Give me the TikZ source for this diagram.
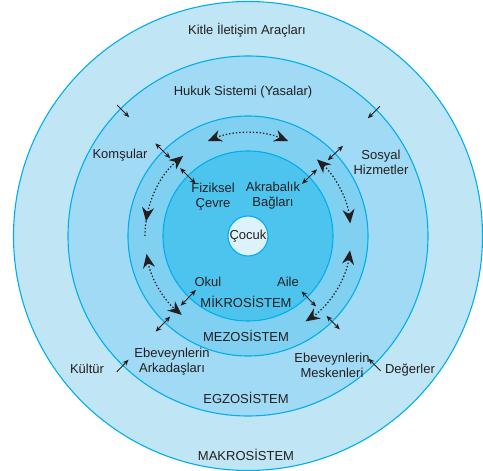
\documentclass[tikz,border=0pt]{standalone}
\usepackage{fontspec}
\setmainfont{Liberation Sans}
\usetikzlibrary{arrows.meta,decorations.markings}

\definecolor{makro}{HTML}{C0E6F5}
\definecolor{egzo}{HTML}{A0DAF5}
\definecolor{mezo}{HTML}{80D0F2}
\definecolor{mikro}{HTML}{4DC4EE}
\definecolor{cocuk}{HTML}{DEF2FB}
\definecolor{rim}{HTML}{00AEEF}
\definecolor{ink}{HTML}{231F20}

\begin{document}
\begin{tikzpicture}[x=1pt,y=1pt
		,every node/.append style={text=ink, align=center, font=\fontsize{13}{15}\selectfont}
		,ring/.style={draw=rim, line width=1.1pt}
		,small/.style={-{Stealth[length=6pt,width=5pt]}, draw=ink, line width=0.9pt}
		,twin/.style={{Stealth[length=6pt,width=5pt]}-{Stealth[length=6pt,width=5pt]}, draw=ink, line width=0.9pt}
		,dots/.style={draw=ink, line width=1.2pt, dash pattern=on 1.4pt off 2pt}
		,big/.style={{Stealth[length=14pt,width=12pt,inset=4.5pt]}-{Stealth[length=14pt,width=12pt,inset=4.5pt]}}
	]
	\useasboundingbox (0,0) rectangle (483,471);
	\coordinate (c) at (248,235);

	% rings
	\draw [ring, fill=makro] (c) circle [radius=234.5];
	\draw [ring, fill=egzo] (c) circle [radius=180];
	\draw [ring, fill=mezo] (c) circle [radius=120];
	\draw [ring, fill=mikro] (c) circle [radius=85];
	\node [circle, fill=cocuk, draw=rim, line width=1.1pt, minimum size=40pt, inner sep=0pt] (cocuk) at (c) {Çocuk};

	% labels
	\node (kitle) at (247,441) {Kitle İletişim Araçları};
	\node (hukuk) at (243,379) {Hukuk Sistemi (Yasalar)};
	\node (komsu) at (120,316) {Komşular};
	\node (sosyal) at (381,309) {Sosyal\\Hizmetler};
	\node (fiziksel) at (213,274) {Fiziksel\\Çevre};
	\node (akraba) at (273,275) {Akrabalık\\Bağları};
	\node (okul) at (208,189) {Okul};
	\node (aile) at (288,189) {Aile};
	\node (mikro) at (246,169) {MİKROSİSTEM};
	\node (mezo) at (246,135) {MEZOSİSTEM};
	\node (arkadas) at (172,109) {Ebeveynlerin\\Arkadaşları};
	\node (kultur) at (87,102) {Kültür};
	\node (mesken) at (332,106) {Ebeveynlerin\\Meskenleri};
	\node (deger) at (410,101) {Değerler};
	\node (egzo) at (246,73) {EGZOSİSTEM};
	\node (makro) at (246,16) {MAKROSİSTEM};

	% makro -> egzo
	\foreach \a/\r/\s in {135/185/168, 44.5/185/168, 226/189/172, 314.5/189/172}{
		\coordinate (from) at ([shift={(\a:\r)}]c);
		\coordinate (to) at ([shift={(\a:\s)}]c);
		\draw [small] (from) -- (to);
	}
	% egzo <-> mezo, mezo <-> mikro
	\foreach \a/\r/\s in {135/131/110, 43.5/131/110, 226/133/112, 314.5/131/112,
		135/96/74, 44/96/75, 226/97/75, 314/98/77}{
		\coordinate (from) at ([shift={(\a:\r)}]c);
		\coordinate (to) at ([shift={(\a:\s)}]c);
		\draw [twin] (from) -- (to);
	}

	% dotted arcs in the mezo ring
	\foreach \p/\q in {113/67, 48/7, -8/-56, 190/230}{
		\draw [dots, big] ([shift={(\p:103)}]c) arc [start angle=\p, end angle=\q, radius=103];
	}
	\draw [dots, {Stealth[length=14pt,width=12pt,inset=4.5pt]}-,
		postaction={decorate, decoration={markings,
			mark=at position 0.84 with {\arrow[solid, ink]{Stealth[length=14pt,width=12pt,inset=4.5pt]}}}}]
		([shift={(129:103)}]c) arc [start angle=129, end angle=180, radius=103];
\end{tikzpicture}
\end{document}
